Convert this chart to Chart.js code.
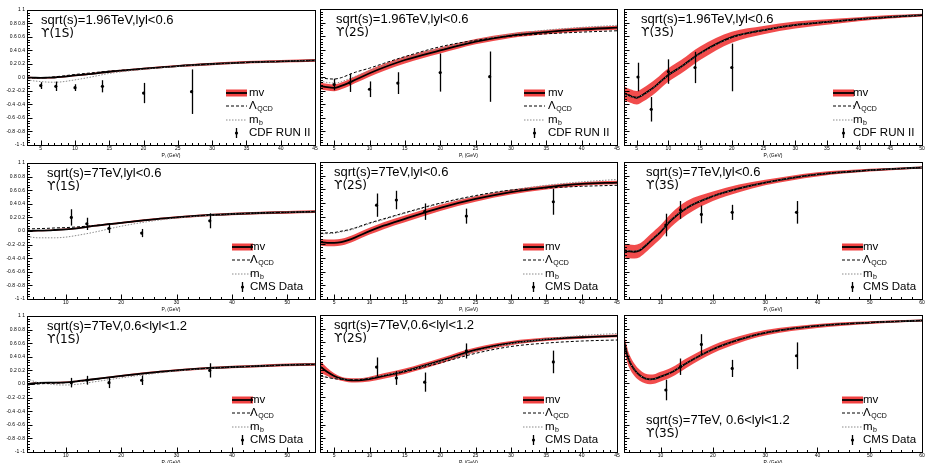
<!DOCTYPE html>
<html lang="en">
<head>
<meta charset="UTF-8">
<title>Upsilon polarization vs pT</title>
<style>
  body { margin: 0; padding: 0; background: #fff; width: 925px; height: 463px; overflow: hidden; position: relative; }
  canvas { position: absolute; }
</style>
</head>
<body>
<script src="https://cdn.jsdelivr.net/npm/chart.js"></script>
<script>
// pT grids (GeV) the theory curves were read at
var ptA = [3, 4, 5, 6, 7, 8, 10, 12, 15, 20, 25, 30, 35, 40, 45];
var ptB = [3, 4, 5, 6, 7, 8, 10, 12, 15, 20, 25, 30, 35, 40, 45, 50];
var ptC = [3, 5, 7, 8, 10, 12, 15, 20, 25, 30, 35, 40, 45, 50, 55];
var ptD = [3, 3.5, 4, 5, 6, 7, 8, 9, 10, 12, 15, 20, 25, 30, 40, 50, 60];

// sqrt(s)=1.96 TeV, |y|<0.6
var mvTev1S   = [0.0, -0.003, -0.005, -0.003, 0.0, 0.008, 0.03, 0.05, 0.085, 0.13, 0.17, 0.2, 0.225, 0.24, 0.255];
var bandTev1S = [0.01, 0.01, 0.01, 0.01, 0.01, 0.01, 0.012, 0.012, 0.014, 0.015, 0.016, 0.017, 0.018, 0.019, 0.02];
var lqcdTev1S = [-0.01, -0.008, -0.005, 0.0, 0.01, 0.02, 0.045, 0.065, 0.095, 0.13, 0.17, 0.2, 0.222, 0.238, 0.25];
var mbTev1S   = [-0.035, -0.05, -0.06, -0.068, -0.07, -0.065, -0.035, 0.0, 0.06, 0.12, 0.165, 0.198, 0.222, 0.24, 0.255];

var mvTev2S   = [-0.13, -0.15, -0.16, -0.13, -0.09, -0.04, 0.055, 0.14, 0.25, 0.39, 0.52, 0.61, 0.66, 0.70, 0.725];
var bandTev2S = [0.05, 0.05, 0.05, 0.05, 0.05, 0.05, 0.05, 0.05, 0.05, 0.045, 0.04, 0.035, 0.03, 0.03, 0.03];
var lqcdTev2S = [-0.01, -0.025, -0.03, -0.01, 0.03, 0.07, 0.13, 0.2, 0.3, 0.445, 0.54, 0.6, 0.635, 0.66, 0.68];
var mbTev2S   = [-0.06, -0.08, -0.09, -0.07, -0.03, 0.01, 0.09, 0.17, 0.28, 0.42, 0.54, 0.63, 0.69, 0.73, 0.76];

var mvTev3S   = [-0.24, -0.28, -0.305, -0.26, -0.2, -0.13, 0.03, 0.15, 0.35, 0.585, 0.69, 0.765, 0.81, 0.85, 0.885, 0.91];
var bandTev3S = [0.1, 0.1, 0.1, 0.1, 0.1, 0.1, 0.1, 0.1, 0.1, 0.08, 0.06, 0.05, 0.04, 0.03, 0.025, 0.02];
var lqcdTev3S = [-0.23, -0.27, -0.3, -0.255, -0.195, -0.125, 0.035, 0.155, 0.35, 0.58, 0.685, 0.76, 0.805, 0.845, 0.88, 0.905];
var mbTev3S   = [-0.245, -0.285, -0.3, -0.26, -0.2, -0.13, 0.03, 0.15, 0.345, 0.58, 0.69, 0.765, 0.81, 0.85, 0.885, 0.91];

var cdfPt    = [5, 7.2, 10, 14, 20, 27];
var cdfVal1S = [-0.12, -0.13, -0.15, -0.13, -0.23, -0.21];
var cdfErr1S = [0.05, 0.07, 0.05, 0.09, 0.15, 0.33];
var cdfVal2S = [-0.11, -0.085, -0.18, -0.09, 0.065, 0.005];
var cdfErr2S = [0.085, 0.135, 0.115, 0.16, 0.28, 0.37];
var cdfPt3S  = [5.2, 7.3, 10, 14.2, 20];
var cdfVal3S = [0.0, -0.475, 0.08, 0.14, 0.14];
var cdfErr3S = [0.21, 0.18, 0.18, 0.23, 0.35];

// sqrt(s)=7 TeV, |y|<0.6
var mvCen1S   = [0.0, 0.005, 0.01, 0.015, 0.025, 0.04, 0.075, 0.12, 0.165, 0.2, 0.23, 0.25, 0.265, 0.275, 0.285];
var bandCen1S = [0.01, 0.01, 0.01, 0.01, 0.01, 0.012, 0.012, 0.014, 0.015, 0.016, 0.017, 0.018, 0.019, 0.02, 0.02];
var lqcdCen1S = [0.03, 0.035, 0.04, 0.045, 0.05, 0.06, 0.08, 0.12, 0.165, 0.2, 0.23, 0.25, 0.265, 0.275, 0.285];
var mbCen1S   = [-0.08, -0.1, -0.1, -0.1, -0.09, -0.065, -0.02, 0.07, 0.14, 0.19, 0.225, 0.25, 0.265, 0.275, 0.285];

var mvCen2S   = [-0.17, -0.18, -0.18, -0.17, -0.14, -0.1, -0.01, 0.07, 0.17, 0.33, 0.46, 0.56, 0.63, 0.68, 0.70];
var bandCen2S = [0.05, 0.05, 0.05, 0.05, 0.05, 0.05, 0.05, 0.05, 0.05, 0.045, 0.04, 0.035, 0.03, 0.025, 0.025];
var lqcdCen2S = [-0.04, -0.035, -0.03, -0.01, 0.01, 0.04, 0.11, 0.17, 0.26, 0.4, 0.51, 0.59, 0.62, 0.645, 0.66];
var mbCen2S   = [-0.05, -0.045, -0.04, -0.02, 0.0, 0.03, 0.1, 0.16, 0.25, 0.39, 0.5, 0.59, 0.66, 0.71, 0.745];

var mvCen3S   = [-0.29, -0.3, -0.305, -0.31, -0.29, -0.23, -0.16, -0.09, -0.02, 0.15, 0.33, 0.5, 0.615, 0.7, 0.82, 0.88, 0.92];
var bandCen3S = [0.1, 0.1, 0.1, 0.1, 0.1, 0.1, 0.1, 0.1, 0.1, 0.1, 0.1, 0.07, 0.055, 0.04, 0.03, 0.02, 0.015];
var lqcdCen3S = [-0.28, -0.29, -0.3, -0.305, -0.285, -0.225, -0.155, -0.085, -0.015, 0.15, 0.33, 0.5, 0.61, 0.7, 0.82, 0.88, 0.92];
var mbCen3S   = [-0.27, -0.285, -0.295, -0.3, -0.28, -0.22, -0.15, -0.08, -0.01, 0.155, 0.33, 0.5, 0.61, 0.7, 0.82, 0.88, 0.92];

var cmsPt    = [11, 13.8, 17.8, 23.7, 36];
var cmsCen1S = [0.2, 0.105, 0.04, -0.03, 0.15];
var cmsCenErr1S = [0.12, 0.09, 0.07, 0.06, 0.11];
var cmsCen2S = [0.37, 0.445, 0.275, 0.21, 0.42];
var cmsCenErr2S = [0.17, 0.135, 0.12, 0.11, 0.19];
var cmsCen3S = [0.08, 0.3, 0.235, 0.265, 0.265];
var cmsCenErr3S = [0.165, 0.13, 0.13, 0.11, 0.165];

// sqrt(s)=7 TeV, 0.6<|y|<1.2
var mvFwd1S   = [0.0, 0.015, 0.02, 0.02, 0.025, 0.04, 0.07, 0.12, 0.165, 0.2, 0.23, 0.25, 0.265, 0.28, 0.29];
var bandFwd1S = [0.01, 0.01, 0.01, 0.01, 0.01, 0.012, 0.012, 0.014, 0.015, 0.016, 0.017, 0.018, 0.019, 0.02, 0.02];
var lqcdFwd1S = [-0.015, 0.0, 0.01, 0.012, 0.02, 0.035, 0.065, 0.115, 0.16, 0.198, 0.228, 0.248, 0.263, 0.278, 0.288];
var mbFwd1S   = [0.08, 0.02, 0.0, -0.01, -0.015, -0.005, 0.03, 0.09, 0.145, 0.19, 0.225, 0.248, 0.265, 0.28, 0.29];

var mvFwd2S   = [0.25, 0.17, 0.11, 0.07, 0.05, 0.045, 0.065, 0.11, 0.18, 0.33, 0.49, 0.59, 0.645, 0.675, 0.695];
var bandFwd2S = [0.085, 0.06, 0.04, 0.03, 0.03, 0.03, 0.035, 0.04, 0.04, 0.04, 0.035, 0.03, 0.025, 0.02, 0.02];
var lqcdFwd2S = [0.11, 0.09, 0.07, 0.06, 0.055, 0.055, 0.075, 0.11, 0.17, 0.3, 0.44, 0.54, 0.59, 0.62, 0.635];
var mbFwd2S   = [0.11, 0.09, 0.075, 0.065, 0.06, 0.06, 0.08, 0.12, 0.18, 0.32, 0.47, 0.58, 0.65, 0.7, 0.73];

var mvFwd3S   = [0.62, 0.45, 0.33, 0.2, 0.12, 0.075, 0.06, 0.07, 0.1, 0.16, 0.3, 0.5, 0.64, 0.74, 0.84, 0.89, 0.92];
var bandFwd3S = [0.12, 0.11, 0.1, 0.09, 0.08, 0.07, 0.07, 0.07, 0.07, 0.07, 0.07, 0.06, 0.05, 0.04, 0.03, 0.02, 0.015];
var lqcdFwd3S = [0.6, 0.44, 0.325, 0.2, 0.12, 0.075, 0.06, 0.07, 0.1, 0.16, 0.3, 0.5, 0.64, 0.74, 0.84, 0.89, 0.92];
var mbFwd3S   = [0.61, 0.445, 0.33, 0.2, 0.12, 0.075, 0.06, 0.07, 0.1, 0.16, 0.3, 0.5, 0.64, 0.74, 0.84, 0.89, 0.92];

var cmsFwd1S = [0.02, 0.055, 0.02, 0.055, 0.2];
var cmsFwdErr1S = [0.07, 0.065, 0.08, 0.07, 0.105];
var cmsFwd2S = [0.24, 0.08, 0.02, 0.475, 0.315];
var cmsFwdErr2S = [0.14, 0.1, 0.14, 0.11, 0.165];
var cmsFwd3S = [-0.095, 0.245, 0.57, 0.22, 0.405];
var cmsFwdErr3S = [0.15, 0.12, 0.15, 0.125, 0.195];

// frame geometry of the 3x3 grid
var rowTop = [9, 162, 315], rowBottom = [145, 299, 452];
var colLeft = [27, 316, 620], colRight = [315, 617, 922];

var FONT = '"Liberation Sans", Arial, sans-serif';

var panels = [
  { r: 0, c: 0, xmax: 45, step: 5, pt: ptA, mv: mvTev1S, band: bandTev1S, lqcd: lqcdTev1S, mb: mbTev1S,
    dx: cdfPt, dy: cdfVal1S, de: cdfErr1S, txt: 'sqrt(s)=1.96TeV,lyl<0.6', state: 'ϒ(1S)', dlab: 'CDF RUN II',
    ax: 14, ay: 10, ls: -89, lt: -66 },
  { r: 0, c: 1, xmax: 45, step: 5, pt: ptA, mv: mvTev2S, band: bandTev2S, lqcd: lqcdTev2S, mb: mbTev2S,
    dx: cdfPt, dy: cdfVal2S, de: cdfErr2S, txt: 'sqrt(s)=1.96TeV,lyl<0.6', state: 'ϒ(2S)', dlab: 'CDF RUN II',
    ax: 16, ay: 10, ls: -93, lt: -69 },
  { r: 0, c: 2, xmax: 50, step: 5, pt: ptB, mv: mvTev3S, band: bandTev3S, lqcd: lqcdTev3S, mb: mbTev3S,
    dx: cdfPt3S, dy: cdfVal3S, de: cdfErr3S, txt: 'sqrt(s)=1.96TeV,lyl<0.6', state: 'ϒ(3S)', dlab: 'CDF RUN II',
    ax: 17, ay: 10, ls: -89, lt: -69 },
  { r: 1, c: 0, xmax: 55, step: 10, pt: ptC, mv: mvCen1S, band: bandCen1S, lqcd: lqcdCen1S, mb: mbCen1S,
    dx: cmsPt, dy: cmsCen1S, de: cmsCenErr1S, txt: 'sqrt(s)=7TeV,lyl<0.6', state: 'ϒ(1S)', dlab: 'CMS Data',
    ax: 20, ay: 10, ls: -83, lt: -65 },
  { r: 1, c: 1, xmax: 45, step: 5, pt: ptA, mv: mvCen2S, band: bandCen2S, lqcd: lqcdCen2S, mb: mbCen2S,
    dx: cmsPt, dy: cmsCen2S, de: cmsCenErr2S, txt: 'sqrt(s)=7TeV,lyl<0.6', state: 'ϒ(2S)', dlab: 'CMS Data',
    ax: 14, ay: 10, ls: -94, lt: -72 },
  { r: 1, c: 2, xmax: 60, step: 10, pt: ptD, mv: mvCen3S, band: bandCen3S, lqcd: lqcdCen3S, mb: mbCen3S,
    dx: cmsPt, dy: cmsCen3S, de: cmsCenErr3S, txt: 'sqrt(s)=7TeV,lyl<0.6', state: 'ϒ(3S)', dlab: 'CMS Data',
    ax: 22, ay: 10, ls: -80, lt: -59 },
  { r: 2, c: 0, xmax: 55, step: 10, pt: ptC, mv: mvFwd1S, band: bandFwd1S, lqcd: lqcdFwd1S, mb: mbFwd1S,
    dx: cmsPt, dy: cmsFwd1S, de: cmsFwdErr1S, txt: 'sqrt(s)=7TeV,0.6<lyl<1.2', state: 'ϒ(1S)', dlab: 'CMS Data',
    ax: 20, ay: 10, ls: -83, lt: -65 },
  { r: 2, c: 1, xmax: 45, step: 5, pt: ptA, mv: mvFwd2S, band: bandFwd2S, lqcd: lqcdFwd2S, mb: mbFwd2S,
    dx: cmsPt, dy: cmsFwd2S, de: cmsFwdErr2S, txt: 'sqrt(s)=7TeV,0.6<lyl<1.2', state: 'ϒ(2S)', dlab: 'CMS Data',
    ax: 14, ay: 10, ls: -94, lt: -72 },
  { r: 2, c: 2, xmax: 60, step: 10, pt: ptD, mv: mvFwd3S, band: bandFwd3S, lqcd: lqcdFwd3S, mb: mbFwd3S,
    dx: cmsPt, dy: cmsFwd3S, de: cmsFwdErr3S, txt: 'sqrt(s)=7TeV, 0.6<lyl<1.2', state: 'ϒ(3S)', dlab: 'CMS Data',
    ax: 22, ay: 105, ls: -80, lt: -59 }
];

function pts(xs, ys) {
  return xs.map(function (x, i) { return { x: x, y: ys[i] }; });
}

function line(ctx, x1, y1, x2, y2) {
  ctx.beginPath(); ctx.moveTo(x1, y1); ctx.lineTo(x2, y2); ctx.stroke();
}

function subText(ctx, main, sub, x, y) {
  ctx.font = '11.5px ' + FONT;
  ctx.fillText(main, x, y);
  var w = ctx.measureText(main).width;
  ctx.font = '7px ' + FONT;
  ctx.fillText(sub, x + w + 0.5, y + 3.5);
}

function makePanel(p) {
  var top = rowTop[p.r], bottom = rowBottom[p.r], left = colLeft[p.c], right = colRight[p.c];
  var yW = p.c === 0 ? 27 : 0;
  var padT = 4, padR = 5, axH = 14;
  var cl = left - yW, ct = top - padT;
  var w = right - cl + padR, h = bottom - ct + axH;

  var cv = document.createElement('canvas');
  cv.width = w; cv.height = h;
  cv.style.left = cl + 'px'; cv.style.top = ct + 'px';
  cv.style.width = w + 'px'; cv.style.height = h + 'px';
  document.body.appendChild(cv);

  var decor = {
    id: 'decor',
    afterDatasetsDraw: function (chart) {
      // vertical error bars on the data points
      var ctx = chart.ctx, xs = chart.scales.x, ys = chart.scales.y;
      ctx.save();
      ctx.strokeStyle = '#000'; ctx.lineWidth = 1.3;
      p.dx.forEach(function (x, i) {
        var px = Math.round(xs.getPixelForValue(x)) + 0.5;
        line(ctx, px, ys.getPixelForValue(p.dy[i] + p.de[i]), px, ys.getPixelForValue(p.dy[i] - p.de[i]));
      });
      ctx.restore();
    },
    afterDraw: function (chart) {
      var ctx = chart.ctx, a = chart.chartArea, xs = chart.scales.x, ys = chart.scales.y;
      ctx.save();
      ctx.strokeStyle = '#000'; ctx.lineWidth = 1;
      var L = Math.round(a.left) + 0.5, R = Math.round(a.right) + 0.5;
      var T = Math.round(a.top) + 0.5, B = Math.round(a.bottom) + 0.5;
      ctx.strokeRect(L, T, R - L, B - T);

      // inward ticks, ROOT style
      var mx = p.step / 5, v, px, major;
      for (v = Math.ceil(xs.min / mx) * mx; v <= xs.max + 1e-9; v += mx) {
        major = Math.abs(v / p.step - Math.round(v / p.step)) < 1e-6;
        px = Math.round(xs.getPixelForValue(v)) + 0.5;
        line(ctx, px, B, px, B - (major ? 5 : 2.5));
      }
      for (v = -1; v <= 1 + 1e-9; v += 0.04) {
        major = Math.abs(v / 0.2 - Math.round(v / 0.2)) < 1e-6;
        px = Math.round(ys.getPixelForValue(v)) + 0.5;
        line(ctx, L, px, L + (major ? 5 : 2.5), px);
      }

      // legend
      var sx = a.right + p.ls, tx = a.right + p.lt, b = a.bottom;
      var yy = [b - 52, b - 39, b - 25, b - 12];
      ctx.fillStyle = 'rgba(238,45,45,0.9)';
      ctx.fillRect(sx, yy[0] - 3.5, 21, 7);
      ctx.lineWidth = 1.8; line(ctx, sx, yy[0], sx + 21, yy[0]);
      ctx.lineWidth = 1; ctx.setLineDash([3, 2]); line(ctx, sx, yy[1], sx + 21, yy[1]);
      ctx.strokeStyle = '#8a8a8a'; ctx.setLineDash([1.5, 1.5]); line(ctx, sx, yy[2], sx + 21, yy[2]);
      ctx.setLineDash([]); ctx.strokeStyle = '#000'; ctx.lineWidth = 1.3;
      line(ctx, sx + 10.5, yy[3] - 5, sx + 10.5, yy[3] + 5);
      ctx.fillStyle = '#000';
      ctx.beginPath(); ctx.arc(sx + 10.5, yy[3], 1.6, 0, Math.PI * 2); ctx.fill();

      ctx.textBaseline = 'middle'; ctx.textAlign = 'left';
      ctx.font = '11.5px ' + FONT;
      ctx.fillText('mv', tx, yy[0]);
      subText(ctx, 'Λ', 'QCD', tx, yy[1]);
      subText(ctx, 'm', 'b', tx, yy[2]);
      ctx.font = '11.5px ' + FONT;
      ctx.fillText(p.dlab, tx, yy[3]);

      // panel annotation
      ctx.font = '13px ' + FONT;
      ctx.fillText(p.txt, a.left + p.ax, a.top + p.ay);
      ctx.font = '12px "DejaVu Sans", sans-serif';
      ctx.fillText(p.state, a.left + p.ax, a.top + p.ay + 14);
      ctx.restore();
    }
  };

  var curve = { type: 'line', pointRadius: 0, fill: false, cubicInterpolationMode: 'monotone' };

  new Chart(cv, {
    type: 'line',
    data: {
      datasets: [
        Object.assign({}, curve, { order: 6, data: pts(p.pt, p.mv.map(function (v, i) { return v + p.band[i]; })),
          borderColor: 'transparent', borderWidth: 0 }),
        Object.assign({}, curve, { order: 5, data: pts(p.pt, p.mv.map(function (v, i) { return v - p.band[i]; })),
          borderColor: 'transparent', borderWidth: 0, fill: '-1', backgroundColor: 'rgba(238,45,45,0.85)' }),
        Object.assign({}, curve, { order: 4, data: pts(p.pt, p.mv), borderColor: '#000', borderWidth: 1.8 }),
        Object.assign({}, curve, { order: 3, data: pts(p.pt, p.mb), borderColor: '#8a8a8a', borderWidth: 1, borderDash: [1.5, 1.5] }),
        Object.assign({}, curve, { order: 2, data: pts(p.pt, p.lqcd), borderColor: '#000', borderWidth: 1, borderDash: [3, 2] }),
        { type: 'line', order: 1, showLine: false, data: pts(p.dx, p.dy), pointRadius: 1.6,
          pointBackgroundColor: '#000', pointBorderWidth: 0 }
      ]
    },
    options: {
      responsive: false,
      animation: false,
      events: [],
      layout: { padding: { left: 0, right: padR, top: padT, bottom: 0 } },
      plugins: { legend: { display: false }, tooltip: { enabled: false } },
      scales: {
        x: {
          type: 'linear', min: 3, max: p.xmax,
          grid: { display: false, drawTicks: false },
          border: { display: false },
          ticks: { stepSize: p.step, includeBounds: false, autoSkip: false, maxRotation: 0,
                   padding: 1, color: '#000', font: { size: 5, family: FONT } },
          title: { display: true, text: 'Pₜ (GeV)', color: '#000', padding: 0, font: { size: 5, family: FONT } },
          afterFit: function (s) { s.height = axH; }
        },
        y: {
          type: 'linear', min: -1, max: 1,
          grid: { display: false, drawTicks: false },
          border: { display: false },
          ticks: { display: p.c === 0, stepSize: 0.2, padding: 2, color: '#000', font: { size: 5, family: FONT },
                   callback: function (v) { var s = String(Math.round(v * 10) / 10); return s + ' ' + s; } },
          afterFit: function (s) { s.width = yW; }
        }
      }
    },
    plugins: [decor]
  });
}

panels.forEach(makePanel);
</script>
</body>
</html>
